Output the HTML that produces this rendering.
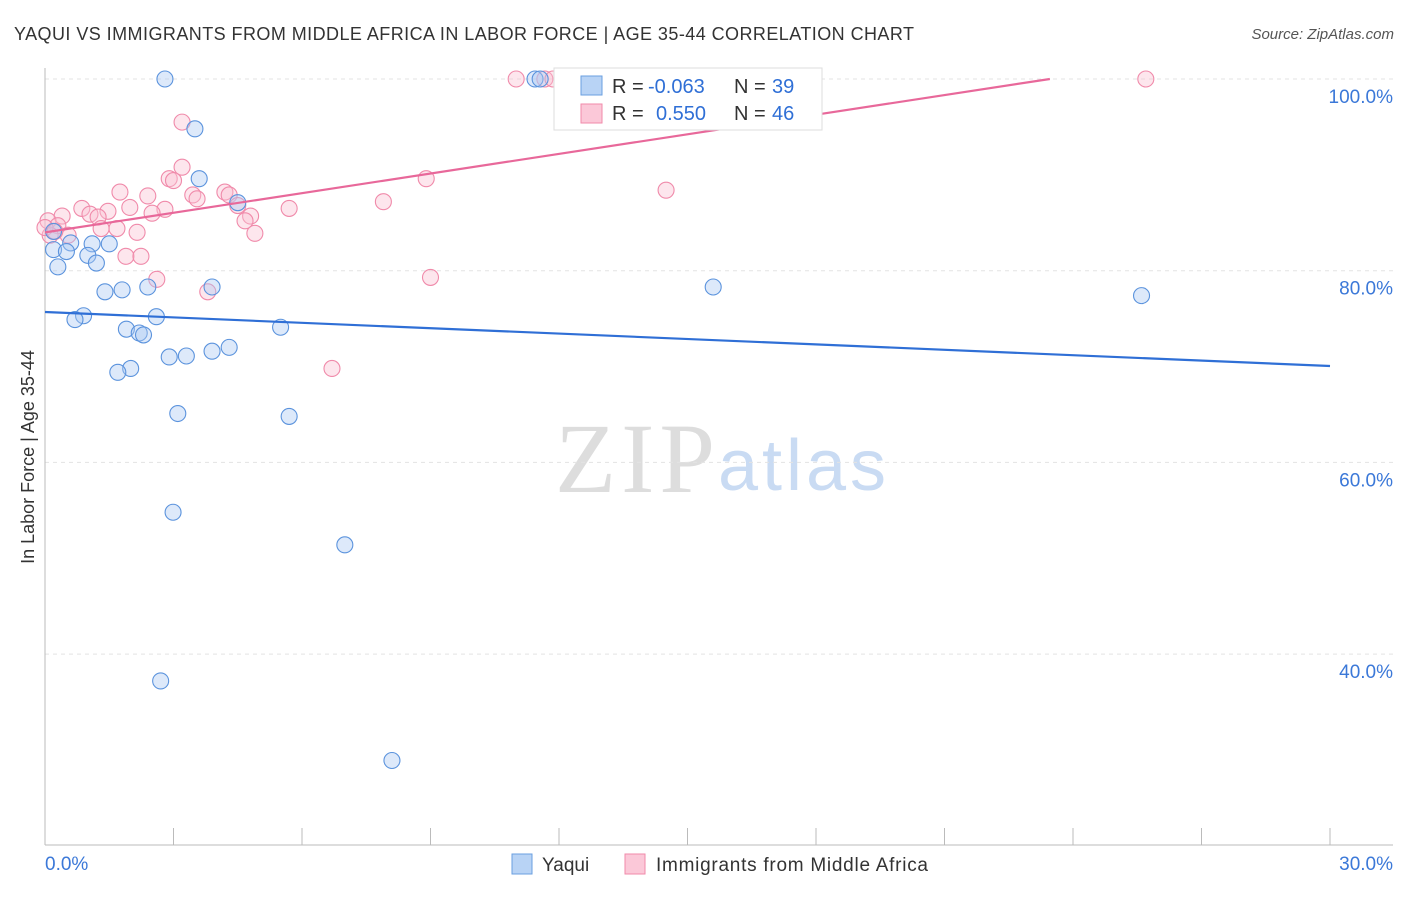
<!DOCTYPE html>
<html><head><meta charset="utf-8"><style>
body{margin:0;background:#fff;font-family:"Liberation Sans",sans-serif;}
svg text{font-family:"Liberation Sans",sans-serif;}
</style></head><body>
<svg id="chart" width="1406" height="892" xmlns="http://www.w3.org/2000/svg">
<text x="14" y="40" font-size="18" fill="#333" textLength="900">YAQUI VS IMMIGRANTS FROM MIDDLE AFRICA IN LABOR FORCE | AGE 35-44 CORRELATION CHART</text>
<text x="1394" y="39" font-size="15" fill="#555" font-style="italic" text-anchor="end">Source: ZipAtlas.com</text>
<text x="34" y="457" font-size="18" fill="#333" text-anchor="middle" transform="rotate(-90 34 457)">In Labor Force | Age 35-44</text>
<text x="555" y="492" font-size="100" fill="#ddd" style="font-family:'Liberation Serif',serif" textLength="160">ZIP</text>
<text x="718" y="490" font-size="72" fill="#c9dbf3" textLength="168">atlas</text>
<g id="grid"></g>
<g id="axes"></g>
<g id="marks"></g>
<g>
<rect x="554" y="68" width="268" height="62" fill="#fff" stroke="#ddd"/>
<rect x="581" y="76" width="21" height="19" fill="#b8d3f5" stroke="#6a9fe0"/>
<rect x="581" y="104" width="21" height="19" fill="#fbc8d8" stroke="#f08aaa"/>
<text x="612" y="93" font-size="20" fill="#333">R = <tspan x="648" fill="#2f6fd6">-0.063</tspan><tspan x="734">N = </tspan><tspan x="772" fill="#2f6fd6">39</tspan></text>
<text x="612" y="120" font-size="20" fill="#333">R = <tspan x="656" fill="#2f6fd6">0.550</tspan><tspan x="734">N = </tspan><tspan x="772" fill="#2f6fd6">46</tspan></text>
</g>
<g>
<rect x="512" y="854" width="20" height="20" fill="#b8d3f5" stroke="#6a9fe0"/>
<text x="542" y="871" font-size="19" fill="#333">Yaqui</text>
<rect x="625" y="854" width="20" height="20" fill="#fbc8d8" stroke="#f08aaa"/>
<text x="656" y="871" font-size="19" fill="#333" textLength="272">Immigrants from Middle Africa</text>
</g>
</svg>
<script>
const yTicks=[100,80,60,40];
const yTickLabels=["100.0%","80.0%","60.0%","40.0%"];
const xEndLabels=["0.0%","30.0%"];
const yaquiX=[2.8,11.44,11.56,3.5,3.6,4.5,0.2,0.6,1.1,1.5,0.2,0.5,1.0,1.2,0.3,1.4,1.8,2.4,3.9,15.6,25.6,0.9,0.7,2.6,1.9,2.2,2.3,5.5,4.3,3.9,2.9,3.3,2.0,1.7,3.1,5.7,2.99,7.0,2.7,8.1];
const yaquiY=[100,100,100,94.8,89.6,87.1,84.1,82.9,82.8,82.8,82.2,82.0,81.6,80.8,80.4,77.8,78.0,78.3,78.3,78.3,77.4,75.3,74.9,75.2,73.9,73.5,73.3,74.1,72.0,71.6,71.0,71.1,69.8,69.4,65.1,64.8,54.8,51.4,37.2,28.9];
const immX=[11.0,11.67,11.86,25.7,3.2,3.2,2.9,3.0,8.9,14.5,1.75,2.4,4.2,4.3,3.45,3.55,7.9,4.5,1.98,2.8,5.7,0.86,1.47,2.5,1.05,0.4,1.24,0.07,4.8,4.67,0.3,1.68,1.31,2.15,4.9,0.54,0.12,1.89,2.24,2.61,9.0,3.8,6.7,0.0,0.23];
const immY=[100,100,100,100,95.5,90.8,89.6,89.4,89.6,88.4,88.2,87.8,88.2,87.9,87.9,87.5,87.2,86.8,86.6,86.4,86.5,86.5,86.2,86.0,85.9,85.7,85.6,85.2,85.7,85.2,84.7,84.4,84.4,84.0,83.9,83.7,83.7,81.5,81.5,79.1,79.3,77.8,69.8,84.5,84.1];
const trendIntercept=[75.69,84.0];
const trendSlope=[-0.1877,0.682];
const L=45,R=1330,T=79;
const xs=v=>L+v/30*(R-L);
const ys=v=>T+(100-v)*9.585;
const NS="http://www.w3.org/2000/svg";
function mk(tag,attrs,parent){const e=document.createElementNS(NS,tag);for(const k in attrs)e.setAttribute(k,attrs[k]);document.getElementById(parent).appendChild(e);return e;}
yTicks.forEach((t,i)=>{
 const g=mk('line',{x1:L,x2:1393,y1:ys(t),y2:ys(t),stroke:'#e3e3e3','stroke-dasharray':'4 4'},'grid');
 
 
 const tx=mk('text',{x:1393,y:ys(t)+24,'font-size':19,fill:'#3b78d8','text-anchor':'end'},'grid');
 tx.textContent=yTickLabels[i];
 
 
});
let a=mk('line',{x1:L,x2:L,y1:68,y2:845,stroke:'#bbb'},'axes');


a=mk('line',{x1:L,x2:1393,y1:845,y2:845,stroke:'#bbb'},'axes');


for(let i=0;i<=10;i++){
 const t=mk('line',{x1:xs(i*3),x2:xs(i*3),y1:828,y2:845,stroke:'#bbb'},'axes');
 
 
}
[[0,'start',45],[30,'end',1393]].forEach((p,i)=>{
 const t=mk('text',{x:p[2],y:870,'font-size':19,fill:'#3b78d8','text-anchor':p[1]},'axes');
 t.textContent=xEndLabels[i];
 
 
});
function pts(X,Y,fill,stroke,name){X.forEach((x,i)=>{
 const c=mk('circle',{cx:xs(x),cy:ys(Y[i]),r:8,fill:fill,'fill-opacity':0.4,stroke:stroke,'stroke-width':1.1},'marks');
 
 
});}
pts(immX,immY,'#fbc0d3','#f08aaa','immigrants-point');
pts(yaquiX,yaquiY,'#a9c9f2','#5b93dd','yaqui-point');
[['#2f6fd6','yaqui-trend-line'],['#e8689a','immigrants-trend-line']].forEach((s,i)=>{
 let x2=30,y2=trendIntercept[i]+trendSlope[i]*30;
 if(y2>100){x2=(100-trendIntercept[i])/trendSlope[i];y2=100;}
 const l=mk('line',{x1:xs(0),y1:ys(trendIntercept[i]),x2:xs(x2),y2:ys(y2),stroke:s[0],'stroke-width':2.2},'marks');
 
 
});
</script>
</body></html>
